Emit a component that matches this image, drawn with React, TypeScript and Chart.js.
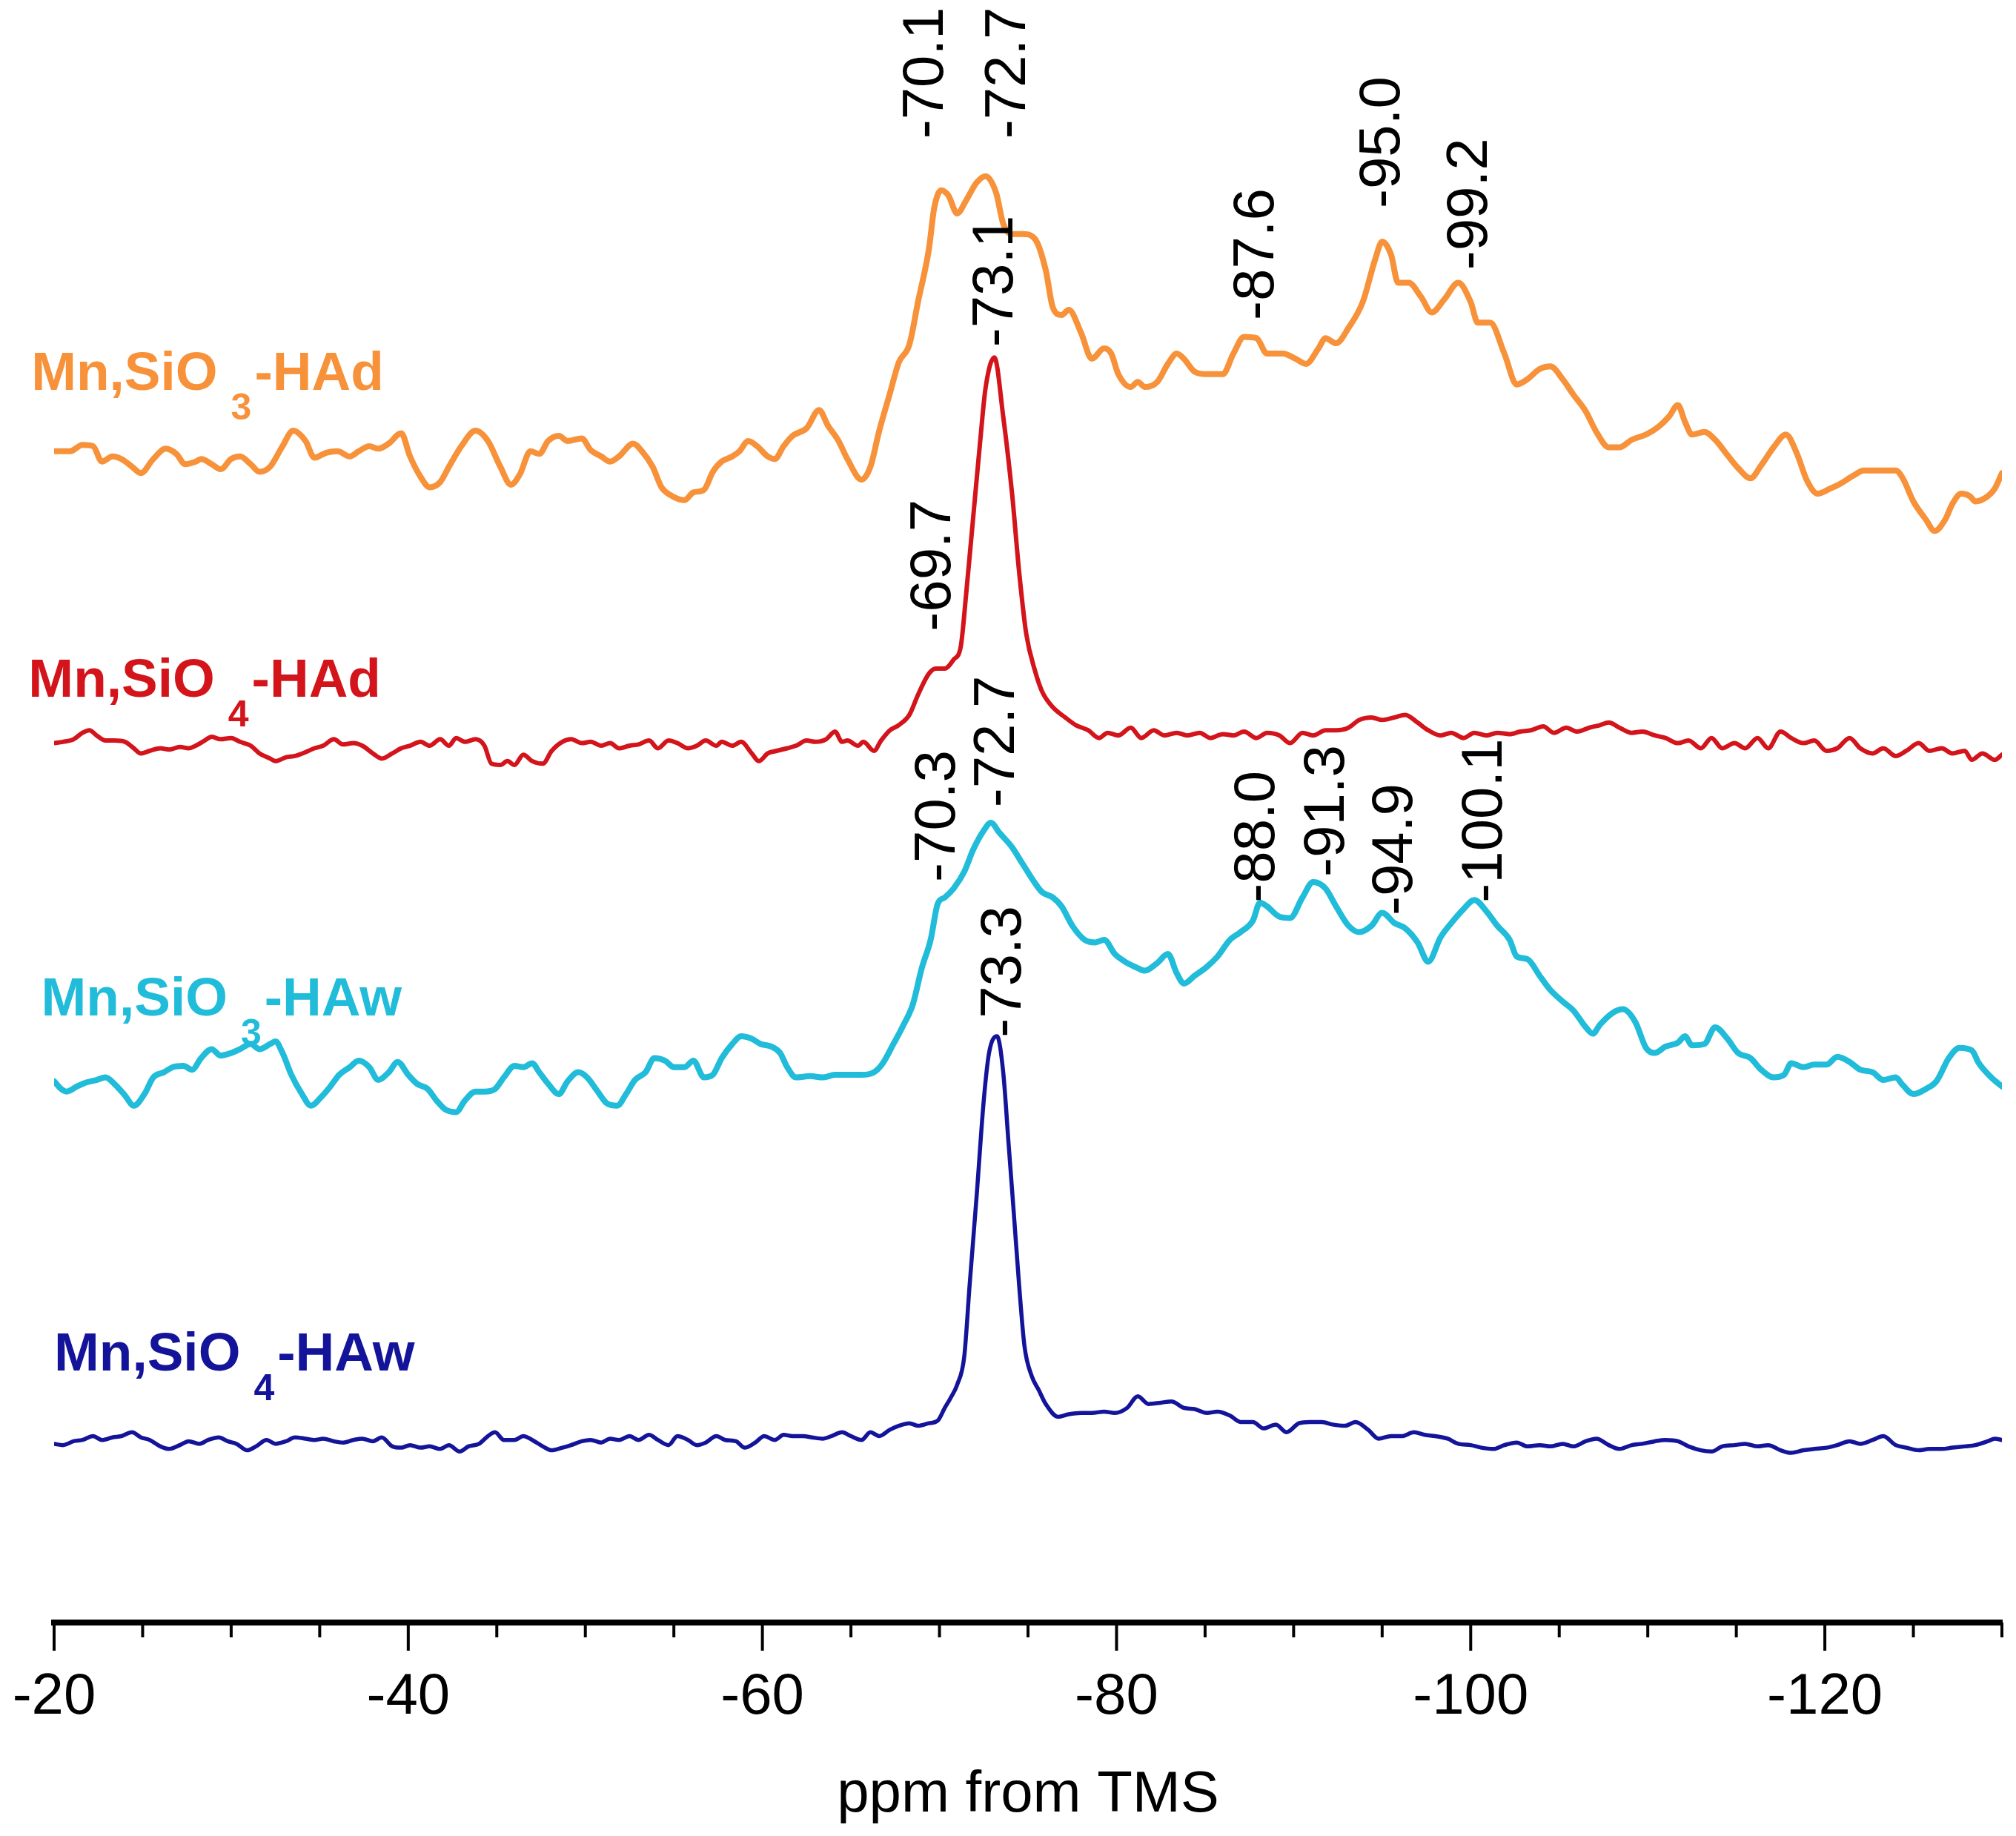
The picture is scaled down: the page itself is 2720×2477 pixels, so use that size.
import React, { useEffect, useRef } from "react";
import { Chart, registerables } from "chart.js";

Chart.register(...registerables);

// ---- Data: chemical shift (ppm from TMS) and stacked intensity (a.u., vertical offsets included) ----
const SIO3_HAD: [number, number][] = [
  [-20.0, 911], [-20.9, 911], [-21.6, 916], [-22.2, 915], [-22.7, 903], [-23.3, 907], [-23.8, 905], [-24.4, 899], [-24.9, 894], [-25.6, 905],
  [-26.3, 913], [-26.9, 909], [-27.4, 901], [-28.0, 903], [-28.3, 905], [-28.9, 901], [-29.4, 897], [-30.0, 905], [-30.5, 907], [-31.1, 901],
  [-31.6, 895], [-32.2, 899], [-32.9, 915], [-33.5, 927], [-34.2, 919], [-34.7, 906], [-35.4, 910], [-36.0, 911], [-36.7, 907], [-37.2, 911],
  [-37.8, 915], [-38.3, 913], [-38.9, 917], [-39.6, 925], [-40.1, 907], [-40.7, 891], [-41.2, 883], [-41.8, 887], [-42.3, 899], [-43.0, 915],
  [-43.8, 927], [-44.5, 919], [-45.2, 899], [-45.8, 885], [-46.3, 893], [-46.9, 911], [-47.4, 909], [-47.9, 919], [-48.5, 923], [-49.0, 919],
  [-49.8, 921], [-50.3, 912], [-50.9, 907], [-51.4, 903], [-51.9, 907], [-52.7, 917], [-53.2, 911], [-53.8, 899], [-54.3, 883], [-54.8, 877],
  [-55.6, 873], [-56.1, 879], [-56.7, 881], [-57.2, 895], [-57.7, 903], [-58.3, 907], [-58.7, 911], [-59.2, 919], [-59.7, 915], [-60.3, 907],
  [-60.7, 905], [-61.2, 915], [-61.7, 923], [-62.5, 929], [-63.2, 943], [-63.7, 931], [-64.3, 919], [-64.8, 905], [-65.6, 889], [-66.1, 899],
  [-66.6, 927], [-67.2, 956], [-67.7, 980], [-68.3, 994], [-68.8, 1028], [-69.4, 1068], [-69.7, 1100], [-70.1, 1114], [-70.5, 1110], [-71.0, 1096],
  [-71.5, 1106], [-72.1, 1120], [-72.6, 1125], [-73.2, 1112], [-73.6, 1088], [-74.1, 1080], [-74.7, 1080], [-75.4, 1076], [-76.0, 1052], [-76.4, 1023],
  [-76.9, 1017], [-77.3, 1021], [-78.0, 1003], [-78.6, 983], [-79.3, 991], [-79.7, 987], [-80.1, 971], [-80.8, 961], [-81.2, 965], [-81.6, 961],
  [-82.3, 965], [-82.9, 979], [-83.4, 987], [-83.8, 983], [-84.4, 973], [-85.1, 971], [-86.0, 971], [-86.6, 987], [-87.2, 1000], [-87.9, 999],
  [-88.5, 987], [-89.4, 987], [-90.1, 983], [-90.7, 979], [-91.4, 991], [-91.8, 999], [-92.4, 995], [-93.1, 1007], [-93.9, 1027], [-94.6, 1060],
  [-95.0, 1074], [-95.5, 1064], [-95.9, 1042], [-96.5, 1042], [-97.2, 1031], [-97.8, 1019], [-98.5, 1029], [-99.3, 1042], [-100.0, 1027], [-100.4, 1011],
  [-101.1, 1011], [-101.9, 987], [-102.6, 963], [-103.2, 967], [-103.9, 975], [-104.5, 977], [-105.2, 967], [-105.8, 955], [-106.5, 942], [-107.1, 926],
  [-107.8, 914], [-108.4, 914], [-109.1, 920], [-109.9, 924], [-110.6, 930], [-111.2, 938], [-111.7, 947], [-112.1, 934], [-112.5, 924], [-113.2, 926],
  [-113.8, 920], [-114.5, 908], [-115.1, 898], [-115.8, 890], [-116.4, 900], [-117.1, 914], [-117.8, 924], [-118.4, 910], [-119.0, 888], [-119.6, 878],
  [-120.3, 882], [-120.9, 886], [-121.6, 892], [-122.2, 896], [-123.3, 896], [-124.0, 896], [-124.4, 890], [-125.0, 872], [-125.7, 858], [-126.2, 849],
  [-126.8, 858], [-127.2, 870], [-127.7, 878], [-128.2, 876], [-128.5, 872], [-129.2, 876], [-129.6, 882], [-130.0, 894],
];

const SIO4_HAD: [number, number][] = [
  [-20.0, 684], [-20.5, 685], [-21.1, 687], [-21.6, 692], [-22.0, 694], [-22.4, 690], [-22.9, 686], [-23.4, 686], [-24.0, 685], [-24.5, 680],
  [-24.9, 676], [-25.4, 678], [-26.0, 680], [-26.5, 679], [-27.1, 681], [-27.6, 680], [-28.0, 682], [-28.5, 686], [-28.9, 689], [-29.4, 687],
  [-30.0, 688], [-30.5, 685], [-31.1, 682], [-31.6, 676], [-32.2, 672], [-32.5, 670], [-33.1, 673], [-33.6, 674], [-34.2, 677], [-34.7, 680],
  [-35.2, 682], [-35.8, 687], [-36.3, 683], [-36.9, 684], [-37.4, 682], [-38.0, 676], [-38.5, 672], [-39.1, 676], [-39.6, 680], [-40.1, 682],
  [-40.7, 685], [-41.2, 682], [-41.8, 687], [-42.3, 682], [-42.7, 688], [-43.2, 685], [-43.8, 687], [-44.3, 682], [-44.7, 668], [-45.2, 667],
  [-45.6, 670], [-46.0, 667], [-46.5, 675], [-47.0, 670], [-47.6, 668], [-48.1, 678], [-48.7, 685], [-49.2, 687], [-49.8, 684], [-50.3, 685],
  [-50.9, 682], [-51.4, 684], [-51.9, 680], [-52.5, 682], [-53.0, 683], [-53.6, 686], [-54.1, 680], [-54.7, 686], [-55.2, 684], [-55.8, 680],
  [-56.3, 682], [-56.8, 686], [-57.4, 682], [-57.7, 685], [-58.3, 682], [-58.8, 685], [-59.4, 676], [-59.8, 670], [-60.3, 676], [-60.8, 678],
  [-61.4, 680], [-61.9, 682], [-62.5, 686], [-63.0, 685], [-63.6, 687], [-64.1, 693], [-64.5, 685], [-64.8, 686], [-65.4, 682], [-65.7, 685],
  [-66.3, 678], [-66.7, 686], [-67.2, 694], [-67.7, 698], [-68.3, 706], [-68.8, 722], [-69.4, 738], [-69.8, 742], [-70.3, 742], [-70.8, 749],
  [-71.2, 759], [-71.5, 799], [-71.9, 859], [-72.3, 919], [-72.6, 960], [-73.1, 984], [-73.6, 938], [-74.1, 878], [-74.5, 817], [-74.9, 769],
  [-75.4, 740], [-75.8, 724], [-76.4, 712], [-77.1, 704], [-77.7, 698], [-78.4, 694], [-79.0, 688], [-79.5, 692], [-80.1, 690], [-80.8, 696],
  [-81.4, 688], [-82.1, 694], [-82.7, 690], [-83.4, 692], [-84.0, 690], [-84.7, 692], [-85.3, 688], [-86.0, 691], [-86.6, 690], [-87.2, 693],
  [-87.9, 688], [-88.5, 692], [-89.2, 690], [-89.8, 684], [-90.5, 692], [-91.1, 690], [-91.8, 694], [-92.4, 694], [-93.1, 696], [-93.7, 702],
  [-94.4, 704], [-95.0, 702], [-95.7, 704], [-96.3, 706], [-97.0, 700], [-97.6, 694], [-98.3, 690], [-98.9, 692], [-99.6, 688], [-100.2, 692],
  [-100.9, 690], [-101.5, 692], [-102.2, 691], [-102.8, 693], [-103.4, 694], [-104.1, 697], [-104.7, 692], [-105.4, 696], [-106.0, 693], [-106.7, 696],
  [-107.3, 698], [-107.8, 700], [-108.4, 696], [-109.1, 692], [-109.7, 693], [-110.4, 690], [-111.0, 688], [-111.7, 684], [-112.3, 686], [-113.0, 680],
  [-113.6, 688], [-114.2, 680], [-114.9, 684], [-115.5, 680], [-116.2, 688], [-116.8, 680], [-117.5, 693], [-118.1, 688], [-118.8, 684], [-119.4, 686],
  [-120.1, 678], [-120.7, 680], [-121.4, 688], [-122.0, 680], [-122.7, 676], [-123.3, 680], [-124.0, 674], [-124.6, 678], [-125.3, 684], [-125.9, 678],
  [-126.6, 680], [-127.2, 676], [-127.9, 678], [-128.3, 671], [-128.9, 676], [-129.6, 671], [-130.0, 675],
];

const SIO3_HAW: [number, number][] = [
  [-20.0, 421], [-20.4, 415], [-20.7, 413], [-21.3, 417], [-21.8, 420], [-22.4, 422], [-22.9, 424], [-23.4, 419], [-24.0, 410], [-24.5, 402],
  [-25.1, 411], [-25.6, 424], [-26.2, 428], [-26.7, 432], [-27.3, 433], [-27.8, 430], [-28.3, 439], [-28.9, 446], [-29.4, 441], [-30.0, 443],
  [-30.5, 446], [-31.1, 450], [-31.6, 446], [-32.2, 450], [-32.5, 452], [-32.9, 443], [-33.4, 426], [-34.0, 411], [-34.5, 402], [-35.1, 409],
  [-35.6, 417], [-36.1, 426], [-36.7, 432], [-37.2, 437], [-37.8, 432], [-38.3, 422], [-38.9, 428], [-39.4, 436], [-40.0, 426], [-40.5, 419],
  [-41.1, 415], [-41.6, 406], [-42.1, 399], [-42.7, 397], [-43.2, 406], [-43.8, 413], [-44.3, 413], [-44.9, 415], [-45.4, 424], [-46.0, 433],
  [-46.5, 432], [-47.0, 435], [-47.4, 428], [-47.9, 419], [-48.5, 411], [-49.0, 421], [-49.6, 428], [-50.1, 424], [-50.7, 413], [-51.2, 404],
  [-51.8, 402], [-52.3, 411], [-52.8, 422], [-53.4, 428], [-53.9, 439], [-54.5, 437], [-55.0, 432], [-55.6, 432], [-56.1, 437], [-56.7, 424],
  [-57.2, 426], [-57.7, 439], [-58.3, 450], [-58.8, 456], [-59.4, 454], [-59.9, 450], [-60.5, 448], [-61.0, 443], [-61.4, 432], [-61.9, 424],
  [-62.7, 425], [-63.4, 424], [-64.1, 426], [-64.8, 426], [-65.6, 426], [-66.3, 428], [-66.8, 435], [-67.4, 450], [-67.9, 463], [-68.5, 481],
  [-69.0, 509], [-69.5, 531], [-69.9, 559], [-70.3, 564], [-70.8, 571], [-71.4, 584], [-71.9, 601], [-72.5, 616], [-72.9, 622], [-73.4, 614],
  [-74.1, 603], [-74.7, 590], [-75.4, 575], [-75.8, 568], [-76.4, 564], [-76.9, 557], [-77.5, 542], [-78.2, 531], [-78.8, 529], [-79.3, 531],
  [-79.9, 520], [-80.6, 513], [-81.2, 509], [-81.6, 507], [-82.3, 513], [-82.9, 520], [-83.4, 505], [-83.8, 497], [-84.4, 503], [-85.1, 510],
  [-85.7, 518], [-86.4, 531], [-87.0, 537], [-87.7, 546], [-88.1, 560], [-88.5, 557], [-89.2, 549], [-89.8, 548], [-90.5, 564], [-91.1, 576],
  [-91.8, 571], [-92.4, 557], [-93.1, 542], [-93.7, 537], [-94.4, 542], [-95.0, 552], [-95.7, 544], [-96.3, 540], [-97.0, 529], [-97.6, 514],
  [-98.3, 533], [-98.9, 544], [-99.6, 555], [-100.2, 562], [-100.9, 553], [-101.5, 542], [-102.2, 531], [-102.6, 518], [-103.2, 516], [-103.9, 503],
  [-104.5, 492], [-105.2, 483], [-105.8, 476], [-106.5, 463], [-106.9, 458], [-107.3, 465], [-108.0, 474], [-108.6, 477], [-109.3, 467], [-109.9, 447],
  [-110.4, 443], [-111.0, 448], [-111.7, 451], [-112.1, 456], [-112.5, 449], [-113.2, 450], [-113.8, 463], [-114.5, 454], [-115.1, 443], [-115.8, 439],
  [-116.4, 430], [-117.1, 424], [-117.7, 426], [-118.1, 435], [-118.8, 432], [-119.4, 434], [-120.1, 434], [-120.7, 440], [-121.4, 436], [-122.0, 430],
  [-122.7, 428], [-123.3, 422], [-124.0, 424], [-124.4, 418], [-125.0, 411], [-125.7, 415], [-126.3, 421], [-127.0, 439], [-127.6, 447], [-128.3, 445],
  [-128.7, 435], [-129.4, 424], [-130.0, 417],
];

const SIO4_HAW: [number, number][] = [
  [-20.0, 139], [-20.5, 138], [-21.1, 141], [-21.6, 142], [-22.2, 145], [-22.7, 142], [-23.3, 144], [-23.8, 145], [-24.4, 148], [-24.9, 144],
  [-25.4, 142], [-26.0, 137], [-26.5, 135], [-27.1, 138], [-27.6, 141], [-28.2, 139], [-28.7, 142], [-29.3, 144], [-29.8, 141], [-30.3, 139],
  [-30.9, 134], [-31.4, 137], [-32.0, 142], [-32.5, 139], [-33.1, 141], [-33.6, 144], [-34.2, 143], [-34.7, 142], [-35.2, 143], [-35.8, 141],
  [-36.3, 140], [-36.9, 142], [-37.4, 143], [-38.0, 141], [-38.5, 144], [-39.1, 137], [-39.6, 136], [-40.1, 138], [-40.7, 136], [-41.2, 137],
  [-41.8, 135], [-42.3, 138], [-42.9, 133], [-43.4, 137], [-44.0, 139], [-44.5, 145], [-44.9, 148], [-45.4, 142], [-46.0, 142], [-46.5, 145],
  [-47.0, 142], [-47.6, 137], [-48.1, 134], [-48.7, 136], [-49.2, 138], [-49.8, 141], [-50.3, 142], [-50.9, 140], [-51.4, 143], [-51.9, 142],
  [-52.5, 145], [-53.0, 142], [-53.6, 146], [-54.1, 142], [-54.7, 138], [-55.2, 145], [-55.8, 142], [-56.3, 138], [-56.8, 140], [-57.4, 145],
  [-57.9, 142], [-58.5, 141], [-59.0, 136], [-59.6, 140], [-60.1, 145], [-60.7, 142], [-61.2, 146], [-61.7, 145], [-62.3, 145], [-62.8, 144],
  [-63.4, 143], [-63.9, 145], [-64.5, 148], [-65.0, 145], [-65.6, 142], [-66.1, 148], [-66.6, 145], [-67.2, 150], [-67.7, 153], [-68.3, 155],
  [-68.8, 153], [-69.4, 155], [-69.9, 157], [-70.3, 167], [-70.6, 174], [-71.0, 185], [-71.4, 207], [-71.7, 262], [-72.1, 332], [-72.5, 406],
  [-72.8, 443], [-73.25, 456], [-73.6, 428], [-73.9, 373], [-74.2, 318], [-74.5, 262], [-74.8, 215], [-75.2, 192], [-75.6, 181], [-76.0, 170],
  [-76.7, 160], [-77.3, 162], [-78.0, 163], [-78.6, 163], [-79.3, 164], [-79.9, 163], [-80.6, 167], [-81.2, 176], [-81.8, 170], [-82.5, 171],
  [-83.1, 172], [-83.8, 167], [-84.4, 166], [-85.1, 163], [-85.7, 164], [-86.4, 161], [-87.0, 156], [-87.7, 156], [-88.3, 151], [-89.0, 154],
  [-89.6, 148], [-90.3, 155], [-90.9, 156], [-91.6, 156], [-92.2, 154], [-92.9, 153], [-93.5, 156], [-94.2, 150], [-94.8, 143], [-95.5, 145],
  [-96.1, 145], [-96.8, 148], [-97.4, 146], [-98.0, 145], [-98.7, 143], [-99.3, 139], [-100.0, 138], [-100.6, 136], [-101.3, 135], [-101.9, 138],
  [-102.6, 140], [-103.2, 137], [-103.9, 138], [-104.5, 137], [-105.2, 139], [-105.8, 137], [-106.5, 141], [-107.1, 143], [-107.8, 138], [-108.4, 135],
  [-109.1, 138], [-109.7, 139], [-110.4, 141], [-111.0, 142], [-111.7, 141], [-112.3, 137], [-113.0, 134], [-113.6, 133], [-114.2, 137], [-114.9, 138],
  [-115.5, 139], [-116.2, 137], [-116.8, 138], [-117.5, 134], [-118.1, 132], [-118.8, 134], [-119.4, 135], [-120.1, 136], [-120.7, 138], [-121.4, 141],
  [-122.0, 139], [-122.7, 142], [-123.3, 145], [-124.0, 138], [-124.6, 136], [-125.3, 134], [-125.9, 135], [-126.6, 135], [-127.2, 136], [-127.9, 137],
  [-128.5, 138], [-129.2, 141], [-129.6, 143], [-130.0, 142],
];

// Peak labels: text, ppm position, intensity at the start (bottom) of the vertical text
const PEAK_LABELS: { text: string; ppm: number; v: number }[] = [
  { text: "-70.1", ppm: -69.03, v: 1154 },
  { text: "-72.7", ppm: -73.66, v: 1154 },
  { text: "-87.6", ppm: -87.67, v: 1013 },
  { text: "-95.0", ppm: -94.81, v: 1100 },
  { text: "-99.2", ppm: -99.74, v: 1052 },
  { text: "-73.1", ppm: -72.94, v: 992 },
  { text: "-69.7", ppm: -69.42, v: 771 },
  { text: "-70.3", ppm: -69.70, v: 576 },
  { text: "-72.7", ppm: -73.02, v: 634 },
  { text: "-88.0", ppm: -87.72, v: 560 },
  { text: "-91.3", ppm: -91.68, v: 580 },
  { text: "-94.9", ppm: -95.53, v: 550 },
  { text: "-100.1", ppm: -100.57, v: 560 },
  { text: "-73.3", ppm: -73.42, v: 455 },
];

const COLORS = ["#F7923A", "#D3141B", "#20BCD9", "#14149B"];
const SERIES_NAMES = ["Mn,SiO3-HAd", "Mn,SiO4-HAd", "Mn,SiO3-HAw", "Mn,SiO4-HAw"];
// Series name labels: [main text, subscript, tail], anchor in data units (baseline-left)
const SERIES_LABELS: { head: string; sub: string; tail: string; ppm: number; v: number }[] = [
  { head: "Mn,SiO", sub: "3", tail: "-HAd", ppm: -18.71, v: 959 },
  { head: "Mn,SiO", sub: "4", tail: "-HAd", ppm: -18.55, v: 720 },
  { head: "Mn,SiO", sub: "3", tail: "-HAw", ppm: -19.27, v: 472 },
  { head: "Mn,SiO", sub: "4", tail: "-HAw", ppm: -20.0, v: 196 },
];

const X_MIN = -130;
const X_MAX = -20;
const X_STEP = 5;
const X_LABEL_STEP = 20;
const Y_MIN = 0;
const Y_MAX = 1262;
const X_TITLE = "ppm from TMS";

const FONT = '"Liberation Sans", Arial, Helvetica, sans-serif';

const overlayPlugin = {
  id: "nmrOverlay",
  afterDatasetsDraw(chart: any) {
    const { ctx } = chart;
    const xs = chart.scales.x;
    const ys = chart.scales.y;
    ctx.save();
    // rotated peak labels
    const size = 78;
    ctx.font = `${size}px ${FONT}`;
    ctx.fillStyle = "#000";
    ctx.textAlign = "left";
    ctx.textBaseline = "alphabetic";
    const capHalf = size * 0.716 / 2;
    for (const l of PEAK_LABELS) {
      const px = xs.getPixelForValue(l.ppm);
      const py = ys.getPixelForValue(l.v);
      ctx.save();
      ctx.translate(px, py);
      ctx.rotate(-Math.PI / 2);
      ctx.fillText(l.text, 0, capHalf);
      ctx.restore();
    }
    // series names
    SERIES_LABELS.forEach((s, i) => {
      let px = xs.getPixelForValue(s.ppm);
      const py = ys.getPixelForValue(s.v);
      ctx.fillStyle = COLORS[i];
      ctx.font = `bold 73px ${FONT}`;
      ctx.fillText(s.head, px, py);
      px += ctx.measureText(s.head).width + 18;
      ctx.font = `bold 50px ${FONT}`;
      ctx.fillText(s.sub, px, py + 40);
      px += ctx.measureText(s.sub).width + 4;
      ctx.font = `bold 73px ${FONT}`;
      ctx.fillText(s.tail, px, py);
    });
    ctx.restore();
  },
  afterDraw(chart: any) {
    const { ctx, chartArea } = chart;
    const xs = chart.scales.x;
    ctx.save();
    ctx.strokeStyle = "#000";
    ctx.lineWidth = 4;
    ctx.lineCap = "butt";
    for (const t of xs.ticks) {
      const px = xs.getPixelForValue(t.value);
      const major = Math.abs(t.value % X_LABEL_STEP) < 1e-9;
      ctx.beginPath();
      ctx.moveTo(px, chartArea.bottom);
      ctx.lineTo(px, chartArea.bottom + (major ? 38 : 20));
      ctx.stroke();
    }
    ctx.restore();
  },
};

export default function App() {
  const ref = useRef<HTMLCanvasElement | null>(null);
  useEffect(() => {
    if (!ref.current) return;
    const series = [SIO3_HAD, SIO4_HAD, SIO3_HAW, SIO4_HAW];
    const widths = [8, 6, 8, 5.5];
    const chart = new Chart(ref.current, {
      type: "line",
      data: {
        datasets: series.map((s, i) => ({
          label: SERIES_NAMES[i],
          data: s.map(([x, y]) => ({ x, y })),
          borderColor: COLORS[i],
          backgroundColor: COLORS[i],
          borderWidth: widths[i],
          pointRadius: 0,
          fill: false,
          cubicInterpolationMode: "monotone" as const,
          borderJoinStyle: "round" as const,
          borderCapStyle: "round" as const,
        })),
      },
      options: {
        animation: false,
        responsive: true,
        maintainAspectRatio: false,
        devicePixelRatio: 1,
        events: [],
        layout: { padding: { left: 73, right: 19, top: 0, bottom: 0 } },
        plugins: { legend: { display: false }, tooltip: { enabled: false } },
        scales: {
          x: {
            type: "linear",
            min: X_MIN,
            max: X_MAX,
            reverse: true,
            afterFit: (scale: any) => {
              scale.height = 288;
            },
            border: { display: true, color: "#000", width: 8 },
            grid: {
              display: true,
              drawOnChartArea: false,
              drawTicks: true,
              tickLength: 40,
              color: "rgba(0,0,0,0)",
              tickColor: "rgba(0,0,0,0)",
            },
            ticks: {
              stepSize: X_STEP,
              autoSkip: false,
              maxRotation: 0,
              minRotation: 0,
              padding: 15,
              color: "#000",
              font: { family: FONT, size: 78 },
              callback: (v: any) => (Math.abs(Number(v) % X_LABEL_STEP) < 1e-9 ? String(v) : ""),
            },
            title: {
              display: true,
              text: X_TITLE,
              color: "#000",
              font: { family: FONT, size: 78 },
              padding: { top: 0, bottom: 8 },
            },
          },
          y: { type: "linear", display: false, min: Y_MIN, max: Y_MAX },
        },
      },
      plugins: [overlayPlugin],
    } as any);
    return () => chart.destroy();
  }, []);
  return (
    <div style={{ position: "fixed", left: 0, top: 0, width: "2720px", height: "2477px", background: "#fff" }}>
      <canvas ref={ref} />
    </div>
  );
}
